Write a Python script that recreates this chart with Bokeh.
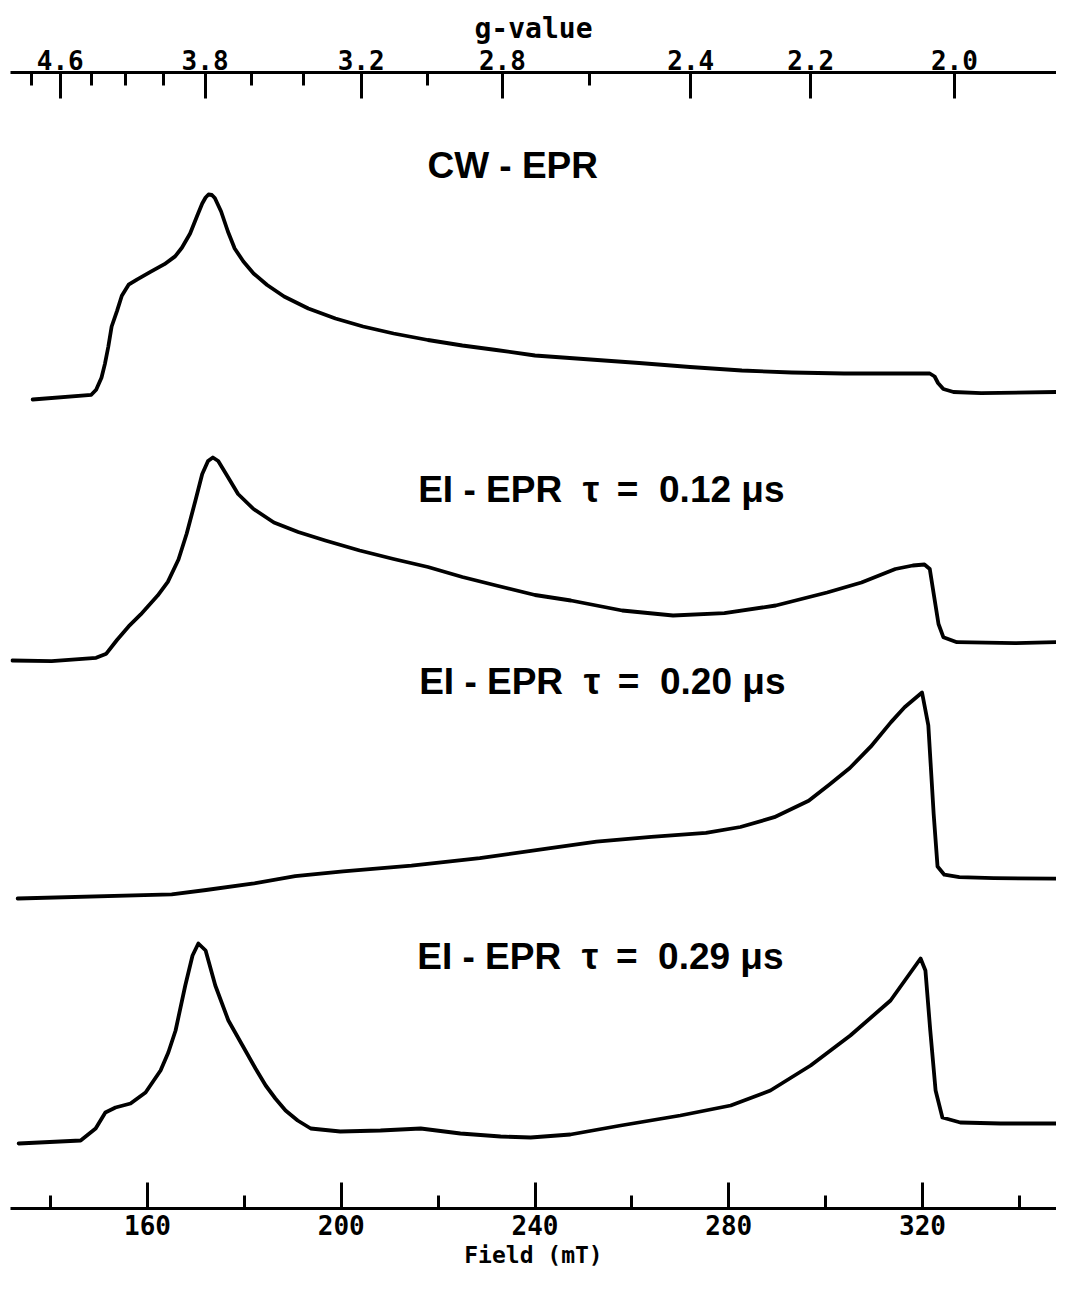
from bokeh.plotting import figure
from bokeh.models import Range1d, LinearAxis, FixedTicker, CustomJSTickFormatter
from bokeh.core.properties import value
from bokeh.embed import file_html
from bokeh.resources import INLINE

# ---------------- data ----------------
freq_GHz = 9.142                     # microwave frequency
B_CONST = 71.4477 * freq_GHz         # B(mT) = B_CONST / g

g_major = [4.6, 3.8, 3.2, 2.8, 2.4, 2.2, 2.0]
g_minor = [4.8, 4.4, 4.2, 4.0, 3.6, 3.4, 3.0, 2.6]
field_major = [160, 200, 240, 280, 320]
field_minor = [140, 180, 220, 260, 300, 340]

cw_field = [136.3, 148.4, 149.4, 150.5, 151.2, 151.9, 152.6, 153.7, 154.7, 156.1, 157.9,
            160.7, 163.5, 165.7, 167.1, 168.8, 170.2, 171.3, 172.0, 172.6, 173.3, 173.9,
            175.2, 176.6, 178.0, 179.8, 181.9, 184.7, 188.2, 193.2, 198.8, 204.5, 210.8,
            217.9, 225.0, 232.0, 240.0, 250.0, 261.5, 272.0, 282.7, 293.0, 303.8, 321.5,
            322.5, 323.2, 324.3, 326.4, 332.1, 347.7]
cw_int = [0, 4.7, 9.8, 21.8, 35.4, 52.5, 73, 88.4, 103.8, 114.8, 120.2,
          127.8, 135.3, 143.1, 151.7, 166, 183, 196, 202, 205, 204.5, 201.5,
          188, 168, 151, 138, 126, 114.5, 103, 91, 81, 73, 66,
          59.5, 54, 49.5, 44, 40.5, 36.5, 32.5, 29, 27, 26, 26,
          23, 16.5, 10.5, 7.5, 6.4, 7.5]

ei012_field = [132.1, 140.2, 149.4, 151.5, 153.7, 156.1, 158.6, 162.1, 164.2, 166.4, 168.1,
               169.9, 171.3, 172.5, 173.5, 174.6, 176.6, 178.7, 181.9, 186.1, 191.1, 196.7,
               203.8, 210.8, 217.9, 225.0, 232.0, 240.0, 247.4, 258.0, 268.5, 279.1, 289.7,
               300.3, 307.4, 314.4, 318.0, 320.4, 321.5, 322.2, 323.3, 324.3, 327.1, 339.1, 347.7]
ei012_int = [0, -0.7, 2.7, 6.8, 20.5, 34.1, 46.1, 64.9, 78.6, 101, 127,
             160, 186.5, 199.5, 203, 199.5, 183.5, 166.5, 151.5, 138, 128.5, 120,
             110, 101.5, 93.5, 83.5, 75, 65.5, 60, 50, 45, 47.3, 55,
             68, 78, 91.5, 95, 96, 91.5, 70, 36.5, 23.3, 18.3, 17.3, 18.3]

ei020_field = [133.2, 165.0, 172.1, 182.0, 190.5, 200.4, 214.5, 228.6, 242.8, 252.7, 264.0,
               275.3, 282.4, 289.4, 296.5, 300.8, 305.0, 309.3, 313.5, 316.3, 319.9, 321.2,
               322.3, 323.1, 324.5, 327.6, 334.7, 347.7]
ei020_int = [0, 4.2, 8.5, 15.1, 22.3, 27.2, 32.8, 40.3, 50.2, 56.8, 61.6,
             65.6, 71.5, 81.3, 97.8, 114, 130.5, 151.8, 176.4, 191.2, 206, 173.2,
             84.6, 32, 23.8, 21.3, 20.3, 19.8]

ei029_field = [133.4, 146.2, 149.3, 151.3, 153.4, 156.5, 159.6, 162.7, 164.3, 165.8, 167.8,
               169.3, 170.5, 172.0, 174.0, 176.7, 180.2, 182.3, 184.4, 186.4, 188.5, 191.0,
               193.7, 199.8, 208.1, 216.4, 224.6, 232.9, 239.1, 247.3, 257.7, 270.0, 280.4,
               288.6, 296.9, 305.1, 313.4, 319.6, 320.6, 321.6, 322.7, 324.1, 327.8, 336.1, 347.7]
ei029_int = [0, 3, 15, 31, 36, 40, 51, 73, 91, 113, 158,
             188, 200, 193, 158, 123, 93, 75, 58, 45, 33, 23,
             15, 12, 13, 15, 10, 7, 6, 9, 18, 28, 38,
             53, 78, 108, 143, 185, 173, 113, 53, 26, 21, 20, 20]

labels = ["CW - EPR",
          "EI - EPR \u00a0\u03c4 \u2009= \u00a00.12 \u03bcs",
          "EI - EPR \u00a0\u03c4 \u2009= \u00a00.20 \u03bcs",
          "EI - EPR \u00a0\u03c4 \u2009= \u00a00.29 \u03bcs"]

# layout of the stack (vertical offsets of each trace, label anchors)
offsets = [809, 548, 310, 65]
label_x = [235.4, 253.7, 253.9, 253.5]
label_y = [1043, 719, 527, 252]
series = [(cw_field, cw_int), (ei012_field, ei012_int),
          (ei020_field, ei020_int), (ei029_field, ei029_int)]

# ---------------- figure ----------------
p = figure(width=1056, height=1280, output_backend="svg", toolbar_location=None,
           x_range=Range1d(131.72, 347.66), y_range=Range1d(0, 1136),
           x_axis_location=None, y_axis_location=None,
           min_border_left=10, min_border_right=0, min_border_top=72, min_border_bottom=72)
p.grid.visible = False
p.outline_line_color = None
p.background_fill_color = "white"
p.border_fill_color = "white"

for (fx, fy), off, lab, lx, ly in zip(series, offsets, labels, label_x, label_y):
    p.line(fx, [v + off for v in fy], line_color="black", line_width=3.8,
           line_join="round", line_cap="round")
    p.text(x=[lx], y=[ly], text=[lab], text_align="center", text_baseline="alphabetic",
           text_font=value("Liberation Sans"), text_font_style="bold",
           text_font_size="37px", text_color="black")

mono = "DejaVu Sans Mono"

bottom = LinearAxis(ticker=FixedTicker(ticks=field_major, minor_ticks=field_minor),
                    axis_label="Field (mT)")
top = LinearAxis(ticker=FixedTicker(ticks=[B_CONST / g for g in g_major],
                                    minor_ticks=[B_CONST / g for g in g_minor]),
                 formatter=CustomJSTickFormatter(code="return (%.4f / tick).toFixed(1);" % B_CONST),
                 axis_label="g-value")

for ax in (bottom, top):
    ax.axis_line_width = 3
    ax.axis_line_color = "black"
    ax.major_tick_line_width = 3
    ax.minor_tick_line_width = 3
    ax.major_tick_in = 26
    ax.major_tick_out = 0
    ax.minor_tick_in = 13
    ax.minor_tick_out = 0
    ax.major_label_text_font = mono
    ax.major_label_text_font_style = "bold"
    ax.major_label_text_color = "black"
    ax.major_label_text_font_size = "26px"
    ax.axis_label_text_font = mono
    ax.axis_label_text_font_style = "bold"
    ax.axis_label_text_color = "black"

bottom.major_label_standoff = 6
bottom.axis_label_text_font_size = "23px"
bottom.axis_label_standoff = 4
top.major_label_standoff = 3
top.axis_label_text_font_size = "28px"
top.axis_label_standoff = 2

p.add_layout(bottom, "below")
p.add_layout(top, "above")

open("out.html", "w").write(file_html(p, INLINE))
